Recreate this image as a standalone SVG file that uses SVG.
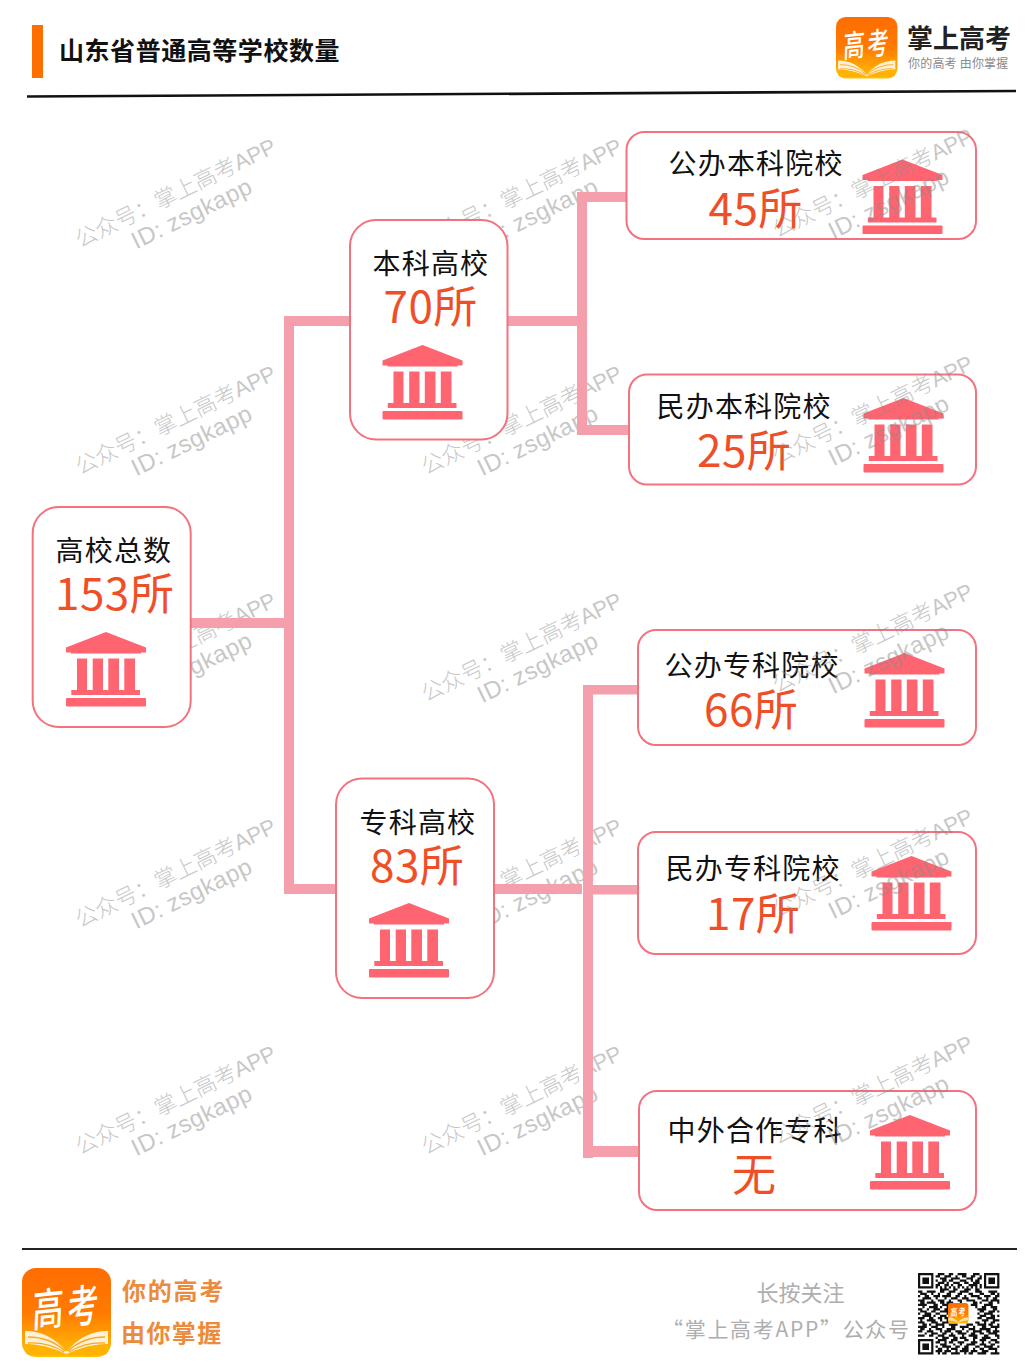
<svg xmlns="http://www.w3.org/2000/svg" xmlns:xlink="http://www.w3.org/1999/xlink" width="1031" height="1370" viewBox="0 0 1031 1370">
<style>
text{font-family:"Noto Sans CJK SC","Noto Sans",sans-serif}
.box{fill:#fff;stroke:#f4717f;stroke-width:2}
.lab{font-size:28px;letter-spacing:1.2px;fill:#111}
.num{font-size:44px;fill:#ef4f27;letter-spacing:.5px}
.wm text{font-size:22px;fill:#8c8c8c;font-weight:300}
.wm .lat{font-family:"Liberation Sans",sans-serif}
.wm{opacity:.48}
.conn{fill:#f59eac}
.ic{fill:#ff6471}
.foot{font-size:24px;font-weight:700;fill:#ec8b3c}
.gray{font-size:21px;fill:#aeaeae}
</style>
<defs>
<linearGradient id="lg" x1="0" y1="0" x2="0" y2="1"><stop offset="0" stop-color="#ff6d00"/><stop offset=".5" stop-color="#ff7a00"/><stop offset="1" stop-color="#ffc107"/></linearGradient>
<g id="wmk" class="wm"><g transform="rotate(-26)"><text x="0" y="0">公众号：掌上高考<tspan class="lat">APP</tspan></text><text class="lat" x="50" y="26" style="font-size:24px;letter-spacing:.4px">ID: zsgkapp</text></g></g>
<g id="bld" class="ic">
<path d="M40 0L80 15.500V20.500H75V21.500H5V20.500H0V15.500Z"/>
<rect x="11" y="26.500" width="10" height="32"/><rect x="26.700" y="26.500" width="10.300" height="32"/><rect x="42.300" y="26.500" width="10.700" height="32"/><rect x="58.300" y="26.500" width="10.700" height="32"/>
<rect x="5.300" y="58" width="68.700" height="5"/><rect x="0" y="66" width="80" height="8.500" rx="1"/>
</g>
<g id="logo">
<rect width="89" height="89" rx="14" fill="url(#lg)"/>
<path d="M3 63Q28 63 44.500 84Q61 63 86 63V76Q66 76 44.500 86Q23 76 3 76Z" fill="#fff1d6"/>
<path d="M6 69Q28 69 43 83M6 75Q26 74 42 84M83 69Q61 69 46 83M83 75Q63 74 47 84" fill="none" stroke="#f9a825" stroke-width="1.300"/>
<path d="M3 76Q23 76 44.500 87Q66 76 86 76V82Q86 87 80 87H9Q3 87 3 82Z" fill="#ffb300"/>
<text transform="translate(10 59) rotate(-6) skewX(-8) scale(.92 1.3)" font-size="34" fill="#fff" font-weight="500">高</text>
<text transform="translate(45 56) rotate(-6) skewX(-8) scale(.92 1.3)" font-size="34" fill="#fff" font-weight="500">考</text>
</g>
</defs>
<rect width="1031" height="1370" fill="#fff"/>
<g id="watermarks-back">
<use xlink:href="#wmk" x="80" y="248"/><use xlink:href="#wmk" x="80" y="475"/><use xlink:href="#wmk" x="80" y="702"/><use xlink:href="#wmk" x="80" y="928"/><use xlink:href="#wmk" x="80" y="1155"/>
<use xlink:href="#wmk" x="426" y="248"/><use xlink:href="#wmk" x="426" y="475"/><use xlink:href="#wmk" x="426" y="702"/><use xlink:href="#wmk" x="426" y="928"/><use xlink:href="#wmk" x="426" y="1155"/>
</g>
<g id="header">
<rect x="32" y="25" width="11" height="53" fill="#ff6f00"/>
<text x="59" y="60" font-size="25" font-weight="700" letter-spacing=".55" fill="#111">山东省普通高等学校数量</text>
<path d="M27 96.500L1016 91" stroke="#111" stroke-width="2.600" fill="none"/>
<use xlink:href="#logo" transform="translate(836 17) scale(.69)"/>
<text x="907" y="48" font-size="26" font-weight="700" fill="#222">掌上高考</text>
<text x="908" y="68" font-size="12" fill="#8a8a8a" letter-spacing=".2" xml:space="preserve">你的高考 由你掌握</text>
</g>
<g id="connectors" class="conn">
<rect x="190" y="618" width="104" height="10"/><rect x="284" y="316" width="10" height="578"/><rect x="284" y="316" width="66" height="10"/><rect x="284" y="884" width="52" height="10"/>
<rect x="507" y="316" width="75" height="10"/><rect x="577" y="192" width="10" height="243"/><rect x="577" y="192" width="50" height="10"/><rect x="577" y="425" width="52" height="10"/>
<rect x="494" y="884" width="88" height="10"/><rect x="583" y="685" width="10" height="473"/><rect x="583" y="685" width="55" height="9.500"/><rect x="593" y="885" width="45" height="9.500"/><rect x="583" y="1146" width="56" height="11"/>
</g>
<g id="n-total"><rect class="box" x="32.700" y="507" width="158" height="220" rx="26"/><text class="lab" x="55.500" y="561">高校总数</text><text class="num" x="55" y="609.500">153所</text><use xlink:href="#bld" x="66" y="632"/></g>
<g id="n-benke"><rect class="box" x="350" y="220" width="157.500" height="219.500" rx="26"/><text class="lab" x="372.500" y="274">本科高校</text><text class="num" x="383.500" y="322.500">70所</text><use xlink:href="#bld" x="382.500" y="345"/></g>
<g id="n-zhuanke"><rect class="box" x="336" y="778.500" width="158" height="219.500" rx="26"/><text class="lab" x="359.500" y="833">专科高校</text><text class="num" x="370" y="881.500">83所</text><use xlink:href="#bld" x="369" y="903"/></g>
<g id="n-gbbk"><rect class="box" x="626.500" y="132" width="349.500" height="107" rx="18"/><text class="lab" x="668.500" y="174">公办本科院校</text><text class="num" x="708.500" y="224.500">45所</text><use xlink:href="#bld" x="862.500" y="159.500"/></g>
<g id="n-mbbk"><rect class="box" x="629" y="374.500" width="347" height="110" rx="18"/><text class="lab" x="656.500" y="417">民办本科院校</text><text class="num" x="697" y="466.500">25所</text><use xlink:href="#bld" x="863.500" y="398"/></g>
<g id="n-gbzk"><rect class="box" x="638" y="630" width="338" height="115" rx="18"/><text class="lab" x="664.500" y="676">公办专科院校</text><text class="num" x="704" y="726">66所</text><use xlink:href="#bld" x="864.500" y="653"/></g>
<g id="n-mbzk"><rect class="box" x="638" y="832" width="338" height="122" rx="18"/><text class="lab" x="665.500" y="879">民办专科院校</text><text class="num" x="706" y="929.500">17所</text><use xlink:href="#bld" x="871.500" y="856"/></g>
<g id="n-zwhz"><rect class="box" x="639" y="1091" width="337" height="119" rx="18"/><text class="lab" x="667.500" y="1141">中外合作专科</text><text class="num" x="732" y="1191">无</text><use xlink:href="#bld" x="870" y="1115"/></g>
<g id="watermarks-front">
<use xlink:href="#wmk" x="777" y="238"/><use xlink:href="#wmk" x="777" y="465"/><use xlink:href="#wmk" x="777" y="693"/><use xlink:href="#wmk" x="777" y="918"/><use xlink:href="#wmk" x="777" y="1145"/>
</g>
<g id="footer">
<path d="M22 1249H1017" stroke="#222" stroke-width="2" fill="none"/>
<use xlink:href="#logo" transform="translate(22 1268)"/>
<text class="foot" x="122" y="1300" letter-spacing="1.800">你的高考</text><text class="foot" x="121" y="1342" letter-spacing="1.400">由你掌握</text>
<text x="756.500" y="1301" font-size="22" fill="#aeaeae">长按关注</text>
<text class="gray" x="662" y="1337" letter-spacing="1.700">“掌上高考APP”公众号</text>
<g id="qr" transform="translate(918 1273) scale(2.2)">
<path fill="none" stroke="#111" stroke-width="1" d="M0 .5h7M0 1.500h1M6 1.500h1M0 2.500h1M2 2.500h3M6 2.500h1M0 3.500h1M2 3.500h3M6 3.500h1M0 4.500h1M2 4.500h3M6 4.500h1M0 5.500h1M6 5.500h1M0 6.500h7M30 .5h7M30 1.500h1M36 1.500h1M30 2.500h1M32 2.500h3M36 2.500h1M30 3.500h1M32 3.500h3M36 3.500h1M30 4.500h1M32 4.500h3M36 4.500h1M30 5.500h1M36 5.500h1M30 6.500h7M0 30.500h7M0 31.500h1M6 31.500h1M0 32.500h1M2 32.500h3M6 32.500h1M0 33.500h1M2 33.500h3M6 33.500h1M0 34.500h1M2 34.500h3M6 34.500h1M0 35.500h1M6 35.500h1M0 36.500h7
M9 .5h3M14 .5h2M18 .5h4M25 .5h3M8 1.500h2M12 1.500h3M17 1.500h1M20 1.500h2M24 1.500h2M28 1.500h1M10 2.500h3M15 2.500h4M22 2.500h3M27 2.500h2M8 3.500h1M11 3.500h2M14 3.500h2M19 3.500h3M24 3.500h1M26 3.500h2M9 4.500h3M13 4.500h1M16 4.500h3M21 4.500h2M25 4.500h3M8 5.500h2M12 5.500h2M15 5.500h1M18 5.500h2M23 5.500h4M28 5.500h1M8 6.500h1M10 6.500h1M12 6.500h1M14 6.500h1M16 6.500h1M18 6.500h1M20 6.500h1M22 6.500h1M24 6.500h1M26 6.500h1M28 6.500h1M10 7.500h4M16 7.500h2M21 7.500h3M26 7.500h2
M0 8.500h2M4 8.500h4M10 8.500h2M14 8.500h3M19 8.500h4M26 8.500h3M32 8.500h4M1 9.500h3M6 9.500h1M9 9.500h1M13 9.500h2M18 9.500h2M23 9.500h2M28 9.500h2M33 9.500h2M36 9.500h1M0 10.500h1M3 10.500h2M7 10.500h3M11 10.500h4M17 10.500h2M21 10.500h1M24 10.500h4M30 10.500h3M35 10.500h2M2 11.500h4M8 11.500h1M12 11.500h1M15 11.500h3M20 11.500h3M27 11.500h2M31 11.500h1M34 11.500h2M0 12.500h3M6 12.500h1M9 12.500h3M14 12.500h1M18 12.500h2M22 12.500h4M29 12.500h3M33 12.500h4M1 13.500h2M4 13.500h4M10 13.500h2M13 13.500h3M19 13.500h1M25 13.500h2M28 13.500h1M32 13.500h2M36 13.500h1
M0 14.500h4M7 14.500h2M11 14.500h3M16 14.500h3M24 14.500h3M30 14.500h4M2 15.500h1M5 15.500h4M10 15.500h1M13 15.500h3M26 15.500h1M29 15.500h2M33 15.500h3M0 16.500h2M4 16.500h1M7 16.500h3M12 16.500h2M27 16.500h4M34 16.500h2M1 17.500h3M6 17.500h2M10 17.500h4M28 17.500h2M32 17.500h3M36 17.500h1M0 18.500h1M3 18.500h3M8 18.500h2M13 18.500h1M27 18.500h1M30 18.500h4M2 19.500h4M7 19.500h1M10 19.500h3M28 19.500h3M33 19.500h2M36 19.500h1M0 20.500h3M5 20.500h2M9 20.500h2M12 20.500h2M27 20.500h2M31 20.500h4M1 21.500h1M4 21.500h4M10 21.500h1M13 21.500h1M29 21.500h3M34 21.500h3M0 22.500h3M6 22.500h3M11 22.500h3M26 22.500h2M30 22.500h1M33 22.500h2M2 23.500h2M5 23.500h1M8 23.500h4M14 23.500h4M22 23.500h3M27 23.500h4M32 23.500h2M36 23.500h1M0 24.500h4M6 24.500h3M11 24.500h1M15 24.500h2M19 24.500h4M25 24.500h1M29 24.500h2M33 24.500h4M1 25.500h2M5 25.500h1M8 25.500h3M13 25.500h4M20 25.500h1M23 25.500h3M28 25.500h5M35 25.500h1M0 26.500h2M4 26.500h3M10 26.500h1M12 26.500h3M17 26.500h3M22 26.500h1M25 26.500h4M31 26.500h2M34 26.500h3M3 27.500h1M6 27.500h3M11 27.500h2M15 27.500h1M18 27.500h4M24 27.500h2M28 27.500h2M32 27.500h4M0 28.500h3M5 28.500h2M9 28.500h3M14 28.500h3M20 28.500h1M23 28.500h4M30 28.500h2M35 28.500h2M8 29.500h1M11 29.500h3M16 29.500h2M19 29.500h3M25 29.500h2M29 29.500h4M36 29.500h1
M9 30.500h4M15 30.500h3M21 30.500h2M25 30.500h1M28 30.500h3M33 30.500h3M8 31.500h2M12 31.500h1M14 31.500h2M18 31.500h3M24 31.500h3M29 31.500h1M32 31.500h1M35 31.500h2M10 32.500h3M16 32.500h1M19 32.500h1M22 32.500h4M28 32.500h3M33 32.500h2M8 33.500h1M11 33.500h4M17 33.500h2M21 33.500h2M26 33.500h2M30 33.500h4M36 33.500h1M9 34.500h2M13 34.500h1M15 34.500h3M20 34.500h3M25 34.500h1M28 34.500h2M32 34.500h4M8 35.500h3M12 35.500h3M17 35.500h1M19 35.500h4M24 35.500h3M29 35.500h3M35 35.500h1M9 36.500h1M11 36.500h2M15 36.500h4M21 36.500h1M23 36.500h2M27 36.500h4M33 36.500h4"/>
</g>
<use xlink:href="#logo" transform="translate(948 1303) scale(.23)"/>
</g>
</svg>
